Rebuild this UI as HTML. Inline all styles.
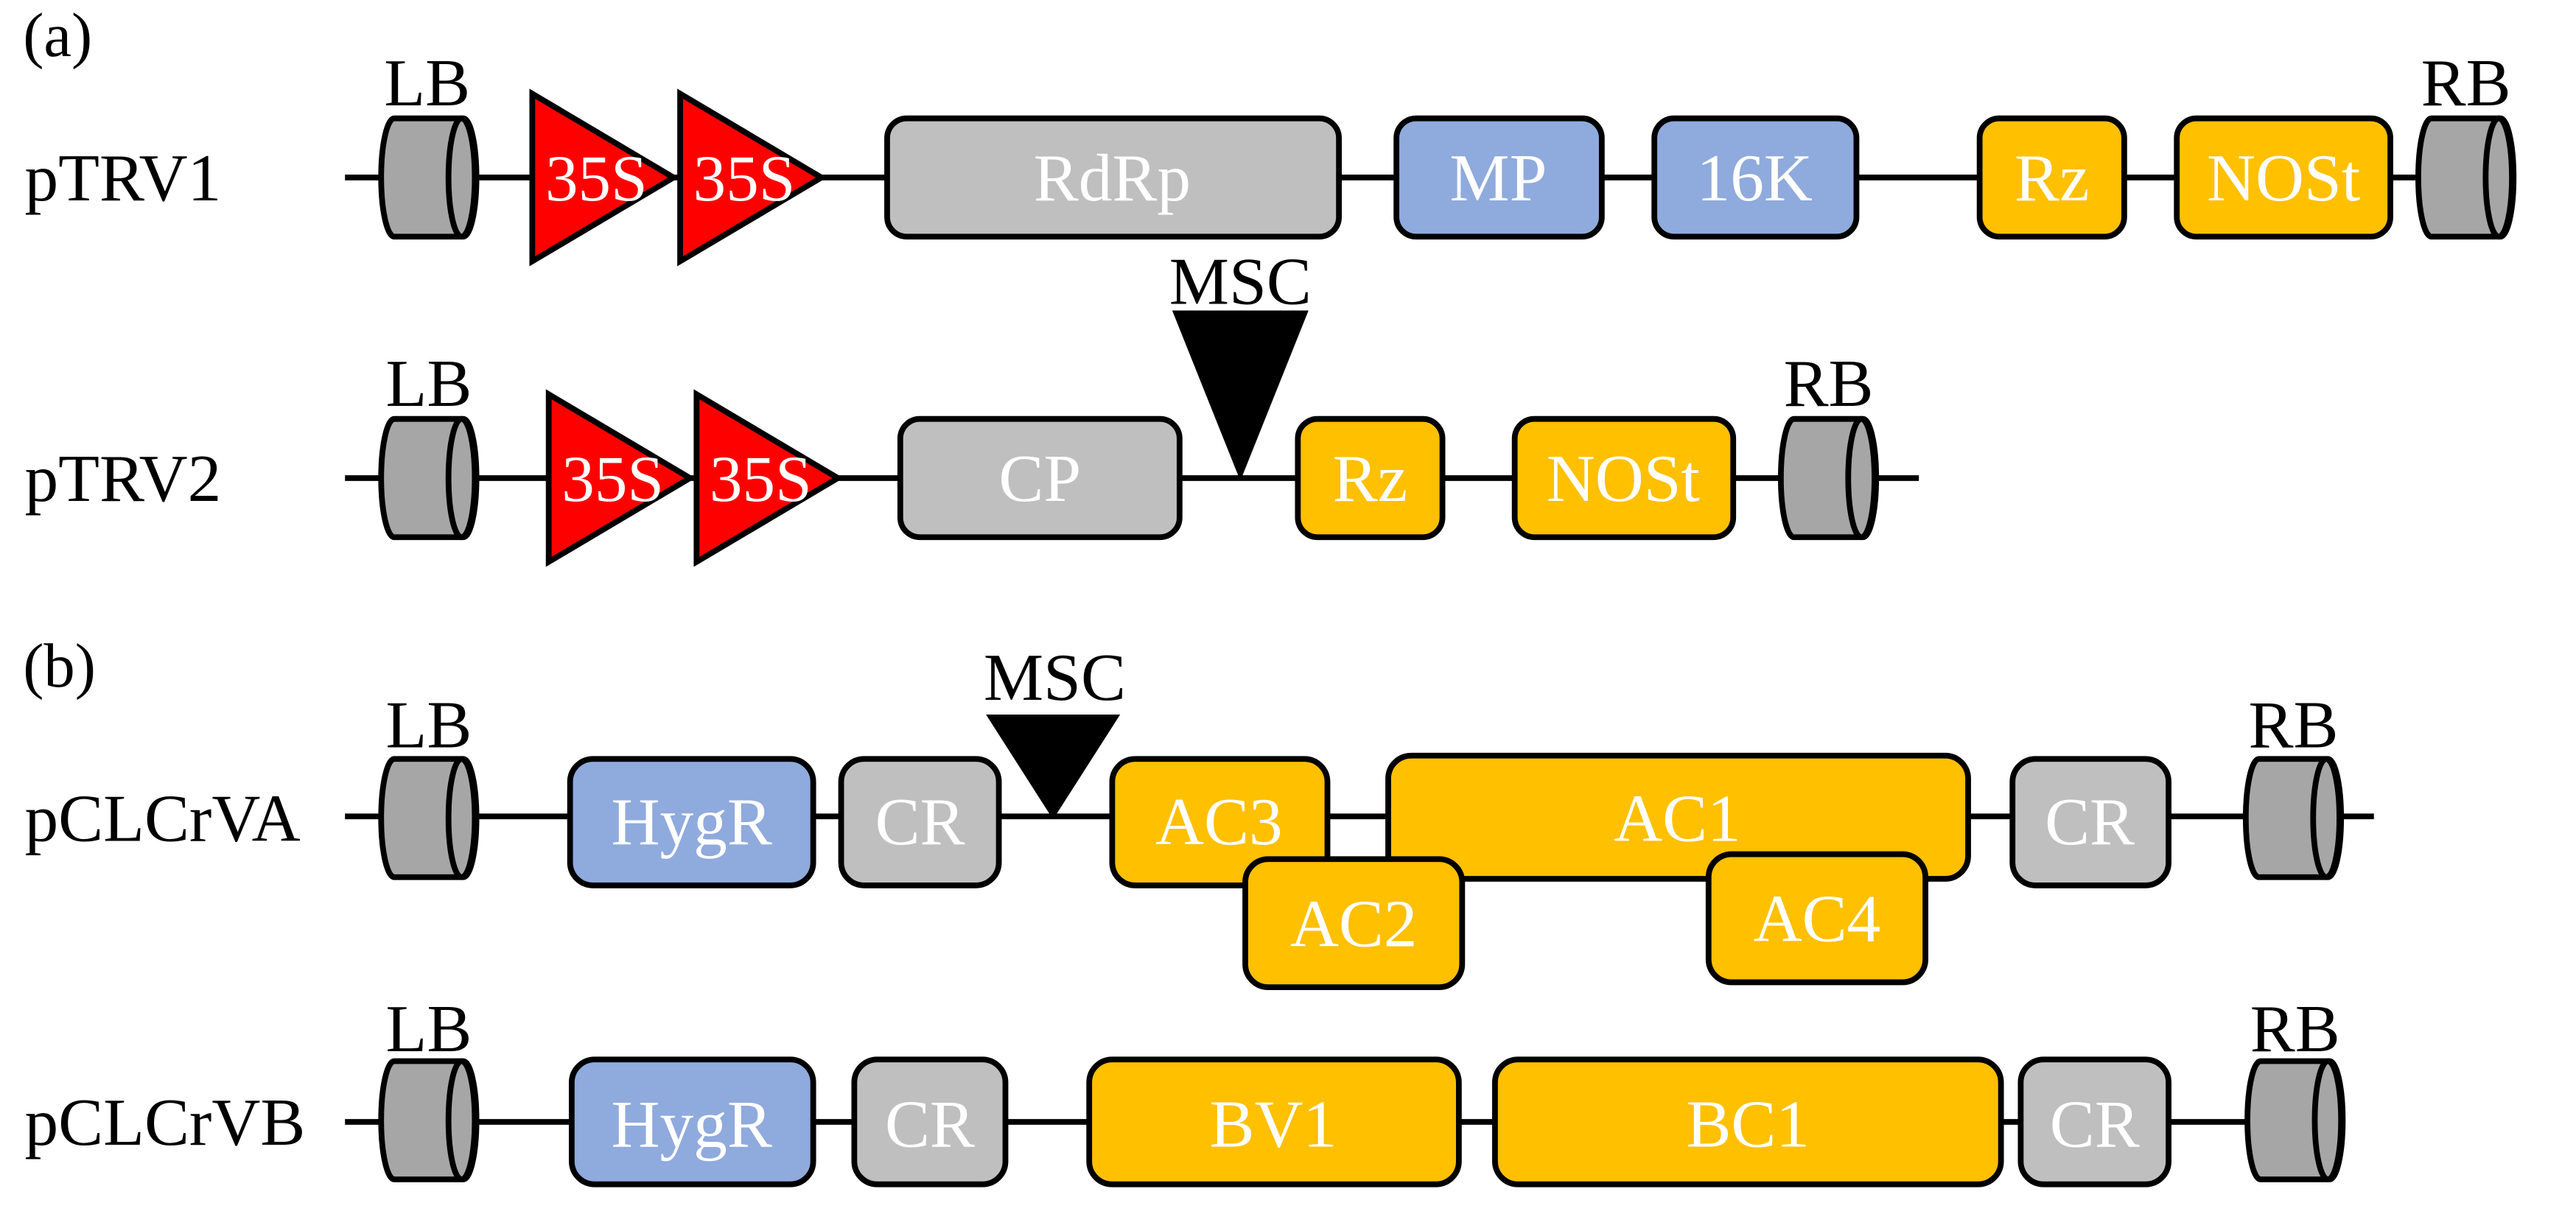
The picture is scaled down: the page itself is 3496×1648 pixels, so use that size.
<!DOCTYPE html>
<html><head><meta charset="utf-8"><style>
html,body{margin:0;padding:0;background:#fff;}
svg{display:block;}
text{font-family:"Liberation Serif","Times New Roman",serif;}
.g{fill:#fff;font-size:41px;text-anchor:middle;}
.k{fill:#000;font-size:41px;}
.t{fill:#fff;font-size:40px;text-anchor:middle;}
</style></head><body>
<svg width="3496" height="1648" viewBox="0 0 1568 739" xmlns="http://www.w3.org/2000/svg" font-family="Liberation Serif, serif">
<defs>
<g id="cyl">
<path d="M8,0 L50,0 A8,36 0 0 1 50,72 L8,72 A8,36 0 0 1 8,0 Z" fill="#a6a6a6" stroke="#000" stroke-width="3.5"/>
<ellipse cx="49" cy="36" rx="8" ry="36" fill="#a6a6a6" stroke="#000" stroke-width="3.5"/>
</g>
</defs>
<g stroke="#000" stroke-width="3.5">
<line x1="210" y1="108" x2="1525" y2="108"/>
<line x1="210" y1="291" x2="1168" y2="291"/>
<line x1="210" y1="497" x2="1445" y2="497"/>
<line x1="210" y1="683" x2="1425" y2="683"/>
</g>
<text class="k" x="14" y="34" style="font-size:38px">(a)</text>
<text class="k" x="14" y="418" style="font-size:38px">(b)</text>
<text class="k" x="15" y="122">pTRV1</text>
<text class="k" x="15" y="305">pTRV2</text>
<text class="k" x="15" y="512">pCLCrVA</text>
<text class="k" x="15" y="697">pCLCrVB</text>

<!-- Row 1 -->
<use href="#cyl" x="232" y="72"/>
<text class="k" x="260" y="64" style="text-anchor:middle">LB</text>
<use href="#cyl" x="1472" y="72"/>
<text class="k" x="1501" y="64" style="text-anchor:middle">RB</text>
<g stroke="#000" stroke-width="3.5" fill="#ff0000">
<polygon points="324,57 410,108 324,159"/>
<polygon points="414,57 500,108 414,159"/>
<polygon points="334,240 420,291 334,342"/>
<polygon points="424,240 510,291 424,342"/>
</g>
<text class="t" x="363" y="122">35S</text>
<text class="t" x="453" y="122">35S</text>
<g stroke="#000" stroke-width="3.5">
<rect x="540" y="72" width="275" height="72" rx="12" fill="#bfbfbf"/>
<rect x="850" y="72" width="125" height="72" rx="12" fill="#8faadc"/>
<rect x="1007" y="72" width="123" height="72" rx="12" fill="#8faadc"/>
<rect x="1205" y="72" width="88" height="72" rx="12" fill="#ffc000"/>
<rect x="1325" y="72" width="130" height="72" rx="12" fill="#ffc000"/>
</g>
<text class="g" x="677" y="122">RdRp</text>
<text class="g" x="912" y="122">MP</text>
<text class="g" x="1068" y="122">16K</text>
<text class="g" x="1249" y="122">Rz</text>
<text class="g" x="1390" y="122">NOSt</text>

<!-- Row 2 -->
<use href="#cyl" x="232" y="255"/>
<text class="k" x="261" y="247" style="text-anchor:middle">LB</text>
<use href="#cyl" x="1084" y="255"/>
<text class="k" x="1113" y="247" style="text-anchor:middle">RB</text>
<text class="t" x="373" y="305">35S</text>
<text class="t" x="463" y="305">35S</text>
<polygon points="715,190 795,190 755,290" fill="#000" stroke="#000" stroke-width="2"/>
<text class="k" x="755" y="185" style="text-anchor:middle">MSC</text>
<g stroke="#000" stroke-width="3.5">
<rect x="548" y="255" width="170" height="72" rx="12" fill="#bfbfbf"/>
<rect x="790" y="255" width="88" height="72" rx="12" fill="#ffc000"/>
<rect x="922" y="255" width="133" height="72" rx="12" fill="#ffc000"/>
</g>
<text class="g" x="633" y="305">CP</text>
<text class="g" x="834" y="305">Rz</text>
<text class="g" x="988" y="305">NOSt</text>

<!-- Row 3 -->
<use href="#cyl" x="232" y="462"/>
<text class="k" x="261" y="455" style="text-anchor:middle">LB</text>
<use href="#cyl" x="1367" y="462"/>
<text class="k" x="1396" y="455" style="text-anchor:middle">RB</text>
<polygon points="602,436 680,436 641,497" fill="#000" stroke="#000" stroke-width="2"/>
<text class="k" x="642" y="426" style="text-anchor:middle">MSC</text>
<g stroke="#000" stroke-width="3.5">
<rect x="347" y="462" width="148" height="77" rx="14" fill="#8faadc"/>
<rect x="512" y="462" width="96" height="77" rx="14" fill="#bfbfbf"/>
<rect x="677" y="462" width="131" height="77" rx="14" fill="#ffc000"/>
<rect x="845" y="460" width="353" height="75" rx="14" fill="#ffc000"/>
<rect x="758" y="523" width="132" height="78" rx="14" fill="#ffc000"/>
<rect x="1040" y="520" width="132" height="78" rx="14" fill="#ffc000"/>
<rect x="1225" y="462" width="95" height="77" rx="14" fill="#bfbfbf"/>
</g>
<text class="g" x="421" y="514">HygR</text>
<text class="g" x="560" y="514">CR</text>
<text class="g" x="742" y="514">AC3</text>
<text class="g" x="1021" y="512">AC1</text>
<text class="g" x="824" y="576">AC2</text>
<text class="g" x="1106" y="573">AC4</text>
<text class="g" x="1272" y="514">CR</text>

<!-- Row 4 -->
<use href="#cyl" x="232" y="646"/>
<text class="k" x="261" y="640" style="text-anchor:middle">LB</text>
<use href="#cyl" x="1368" y="646"/>
<text class="k" x="1397" y="640" style="text-anchor:middle">RB</text>
<g stroke="#000" stroke-width="3.5">
<rect x="348" y="645" width="147" height="76" rx="14" fill="#8faadc"/>
<rect x="520" y="645" width="92" height="76" rx="14" fill="#bfbfbf"/>
<rect x="663" y="645" width="225" height="76" rx="14" fill="#ffc000"/>
<rect x="910" y="645" width="308" height="76" rx="14" fill="#ffc000"/>
<rect x="1230" y="645" width="90" height="76" rx="14" fill="#bfbfbf"/>
</g>
<text class="g" x="421" y="698">HygR</text>
<text class="g" x="566" y="698">CR</text>
<text class="g" x="775" y="698">BV1</text>
<text class="g" x="1064" y="698">BC1</text>
<text class="g" x="1275" y="698">CR</text>
</svg>
</body></html>
